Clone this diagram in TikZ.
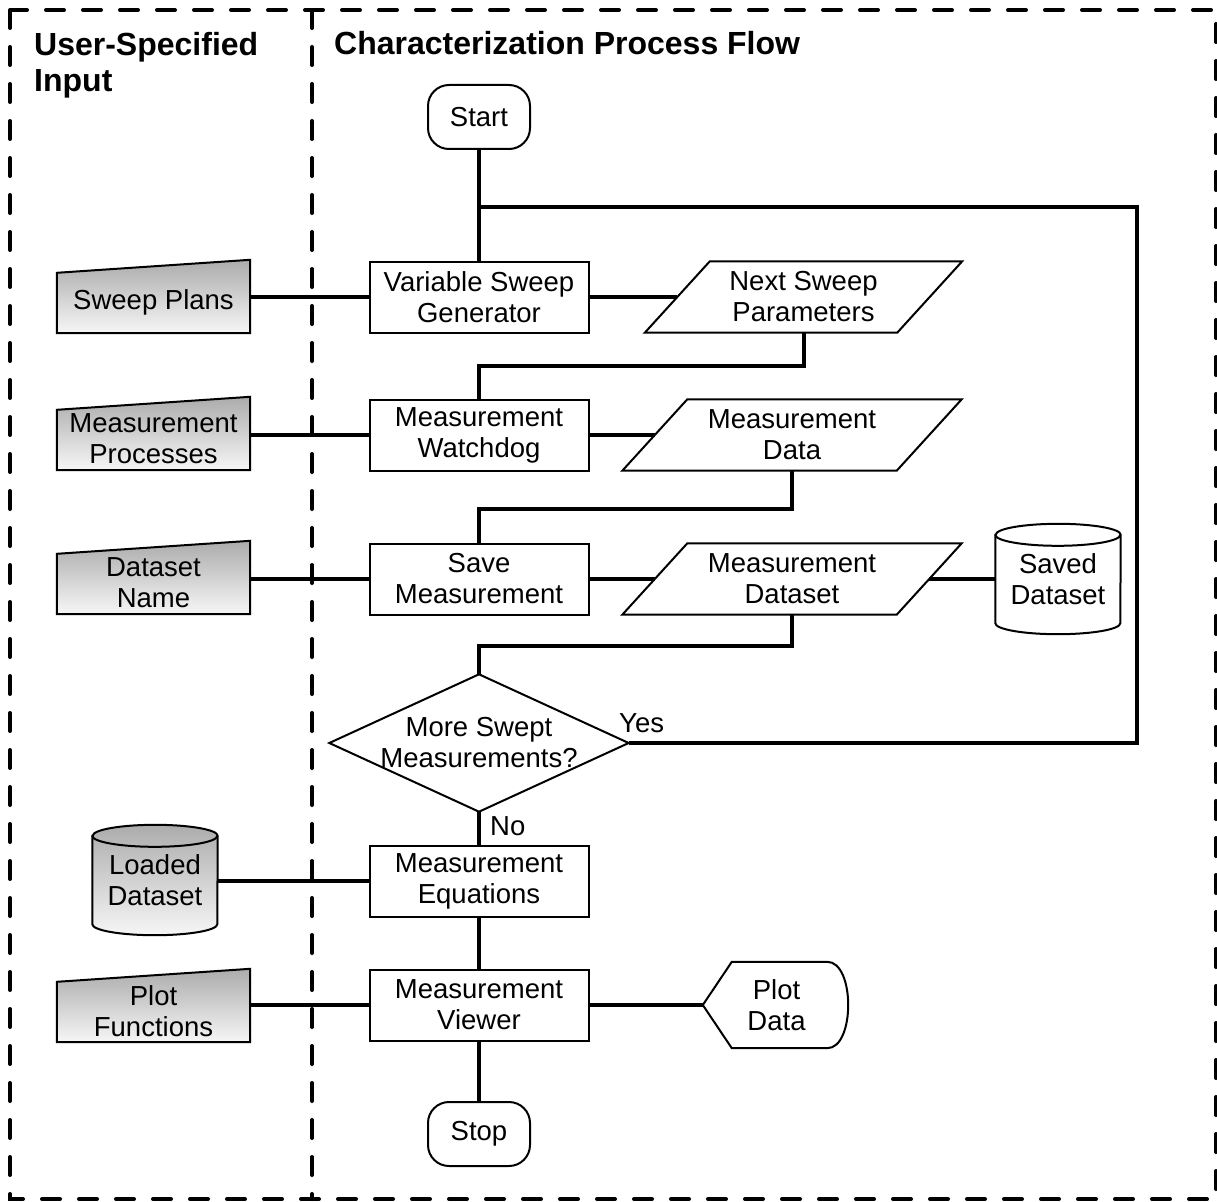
\documentclass[tikz,border=0pt]{standalone}
\usepackage{fontspec}
\setmainfont{Liberation Sans}
\usetikzlibrary{calc,backgrounds}
\definecolor{shtop}{RGB}{172,172,172}
\definecolor{shbot}{RGB}{246,246,246}

\begin{document}
\begin{tikzpicture}[x=1pt,y=-1pt,
  every node/.style={font=\fontsize{27.5}{31}\selectfont, align=center, inner sep=0pt},
  header/.style={font=\bfseries\fontsize{32}{36}\selectfont, align=left, anchor=base west},
  proc/.style={draw, line width=2pt, minimum width=219pt, minimum height=71pt},
  term/.style={draw, line width=2pt, rounded corners=21pt, minimum width=102pt, minimum height=64pt},
  iobox/.style={minimum width=#1, minimum height=71pt},
  manin/.style={minimum width=193pt, minimum height=62pt},
  cyl/.style={minimum width=125pt, minimum height=110pt},
  outline/.style={draw, line width=2pt, line join=miter},
  inshade/.style={top color=shtop, bottom color=shbot},
  link/.style={line width=4pt},
  frame/.style={line width=4pt, dash pattern=on 18pt off 19pt, line cap=round},
  lbl/.style={anchor=base west}
]
\useasboundingbox (0,0) rectangle (1217,1201);

% lane frame and divider
\draw[frame] (10,10) rectangle (1216,1199);
\draw[frame] (312,10) -- (312,1199);

% lane headings
\node[header] (h1) at (34,92) {User-Specified\\Input};
\node[header] (h2) at (334,55) {Characterization Process Flow};

% terminals
\node[term] (start) at (479,117) {Start};
\node[term] (stop) at (479,1134) {Stop};

% process steps
\node[proc] (vsg) at (479,297) {Variable Sweep\\Generator};
\node[proc] (mw)  at (479,435) {Measurement\\Watchdog};
\node[proc] (sm)  at (479,579) {Save\\Measurement};
\node[proc] (meq) at (479,881) {Measurement\\Equations};
\node[proc] (mv)  at (479,1005) {Measurement\\Viewer};

% data (parallelograms)
\node[iobox=252pt] (nsp) at (803.5,297) {Next Sweep\\Parameters};
\node[iobox=274pt] (md)  at (792,435) {Measurement\\Data};
\node[iobox=274pt] (mds) at (792,579) {Measurement\\Dataset};

% decision
\node[minimum width=299pt, minimum height=137pt] (dec) at (479,743) {More Swept\\Measurements?};
\node[lbl] (yes) at (619,732) {Yes};
\node[lbl] (no) at (490,835) {No};

% stored data
\node[cyl] (sd) at (1058,579) {Saved\\Dataset};
\node[cyl] (ld) at (155,880) {Loaded\\Dataset};

% display
\node[minimum width=145pt, minimum height=86pt] (pd) at (775.5,1005) {\hspace*{2pt}Plot\\\hspace*{2pt}Data};

% user inputs (manual input shapes)
\node[manin] (sp)  at (153.5,302) {Sweep Plans};
\node[manin] (mpr) at (153.5,439) {Measurement\\Processes};
\node[manin] (dn)  at (153.5,583) {Dataset\\Name};
\node[manin] (pf)  at (153.5,1011) {Plot\\Functions};

% loop-back corner points
\coordinate (loop) at (1137,207);
\coordinate (join) at (479,207);

% outlines drawn behind the labels
\begin{scope}[on background layer]
  \fill[white] (0,0) rectangle (1217,1201);
  \foreach \n in {nsp,md,mds}{
    \path[outline, fill=white] ([xshift=-32.5pt]\n.south west) -- ([xshift=-32.5pt]\n.south east)
      -- ([xshift=32.5pt]\n.north east) -- ([xshift=32.5pt]\n.north west) -- cycle;
  }
  \path[outline, fill=white] (dec.north) -- (dec.east) -- (dec.south) -- (dec.west) -- cycle;
  \foreach \n in {sp,mpr,dn,pf}{
    \path[outline, inshade] ([yshift=-2pt]\n.north west) -- ([yshift=11pt]\n.north east)
      -- (\n.south east) -- (\n.south west) -- cycle;
  }
  % cylinders
  \path[outline, fill=white] ([yshift=-11pt]sd.north west) -- ([yshift=11pt]sd.south west)
    arc[start angle=180, end angle=360, x radius=62.5pt, y radius=11pt]
    -- ([yshift=-11pt]sd.north east)
    arc[start angle=0, end angle=180, x radius=62.5pt, y radius=11pt] -- cycle;
  \draw[line width=2pt] ([yshift=-11pt]sd.north west)
    arc[start angle=180, end angle=360, x radius=62.5pt, y radius=11pt];
  \path[outline, inshade] ([yshift=-11pt]ld.north west) -- ([yshift=11pt]ld.south west)
    arc[start angle=180, end angle=360, x radius=62.5pt, y radius=11pt]
    -- ([yshift=-11pt]ld.north east)
    arc[start angle=0, end angle=180, x radius=62.5pt, y radius=11pt] -- cycle;
  \draw[line width=2pt] ([yshift=-11pt]ld.north west)
    arc[start angle=180, end angle=360, x radius=62.5pt, y radius=11pt];
  % display shape
  \path[outline, fill=white] (pd.west) -- ([xshift=29pt]pd.north west) -- ([xshift=-21pt]pd.north east)
    .. controls ([xshift=7pt]pd.north east) and ([xshift=7pt]pd.south east) .. ([xshift=-21pt]pd.south east)
    -- ([xshift=29pt]pd.south west) -- cycle;
\end{scope}

% main flow
\draw[link] (start.south) -- (vsg.north);
\draw[link] (vsg.east) -- (nsp.west);
\draw[link] (nsp.south) -- ++(0pt,-33pt) -| (mw.north);
\draw[link] (mw.east) -- (md.west);
\draw[link] (md.south) -- ++(0pt,-38pt) -| (sm.north);
\draw[link] (sm.east) -- (mds.west);
\draw[link] (mds.east) -- (mds.east -| sd.west);
\draw[link] (mds.south) -- ++(0pt,-31pt) -| (dec.north);
\draw[link] (dec.east) -| (loop) -- (join);
\draw[link] (dec.south) -- (meq.north);
\draw[link] (meq.south) -- (mv.north);
\draw[link] (mv.east) -- (pd.west);
\draw[link] (mv.south) -- (stop.north);

% user inputs feeding the flow
\draw[link] (sp.east |- vsg.west) -- (vsg.west);
\draw[link] (mpr.east |- mw.west) -- (mw.west);
\draw[link] (dn.east |- sm.west) -- (sm.west);
\draw[link] (ld.east |- meq.west) -- (meq.west);
\draw[link] (pf.east |- mv.west) -- (mv.west);
\end{tikzpicture}
\end{document}
